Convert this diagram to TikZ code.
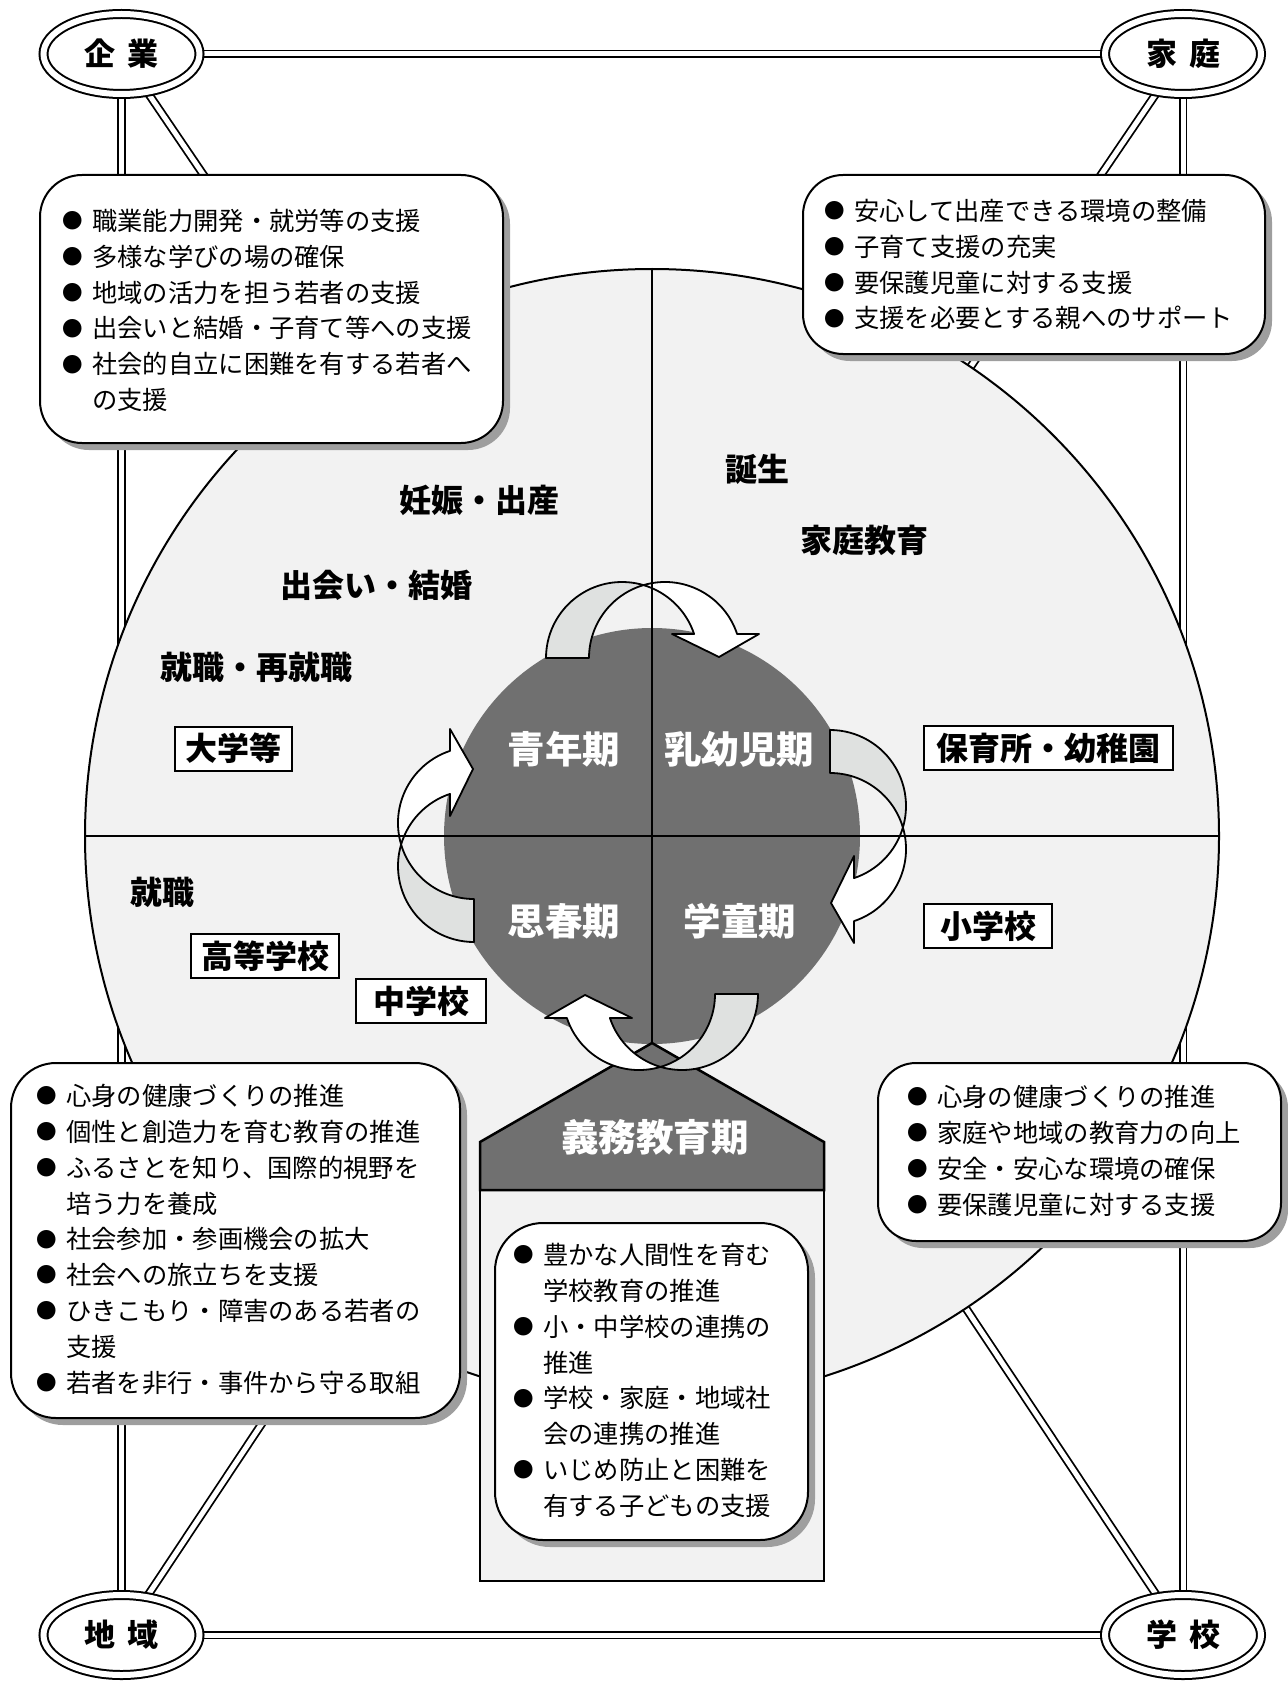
\documentclass[tikz,border=0pt]{standalone}
\usepackage{fontspec}
\setmainfont{Noto Sans CJK JP}
\usetikzlibrary{shapes.geometric,shadows}
\definecolor{bgc}{RGB}{242,242,242}
\definecolor{dkc}{RGB}{112,112,112}
\definecolor{agr}{RGB}{223,225,224}
\definecolor{shc}{RGB}{158,158,158}
\newcommand\bu{\makebox[39pt][c]{\raisebox{1.7pt}{\fontsize{20.5pt}{20.5pt}\selectfont ●}}}
\newcommand\ind{\hspace*{39pt}}
\newcommand\cyclearrow{%
  \draw[arw, fill=agr] (546,658) arc[start angle=180, end angle=73.57, radius=76pt]
     arc[start angle=106.43, end angle=180, radius=76pt] -- cycle;
  \draw[arw, fill=white] (643.5,585.1) arc[start angle=106.43, end angle=18.4, radius=76pt]
     -- (759,634) -- (719,657) -- (672,634) -- (694.1,634)
     arc[start angle=18.4, end angle=73.57, radius=76pt] -- cycle;}
\begin{document}
\begin{tikzpicture}[x=1pt,y=-1pt,
  dbl/.style={draw=black,line width=1.8pt,double=white,double distance=5pt},
  corner/.style={ellipse,draw,line width=2pt,double=white,double distance=6pt,fill=white,
     minimum width=156pt,minimum height=80pt,inner sep=0pt,
     font=\fontsize{31pt}{31pt}\selectfont\bfseries},
  bx/.style={rectangle,draw,line width=2pt,fill=white,inner sep=0pt,
     drop shadow={shadow xshift=7pt,shadow yshift=-7pt,fill=shc,opacity=1}},
  txt/.style={anchor=base west,inner sep=0pt,font=\fontsize{25.3pt}{35.8pt}\selectfont},
  lbl/.style={inner sep=0pt,font=\fontsize{32pt}{32pt}\selectfont\bfseries},
  blbl/.style={lbl,draw,line width=2pt,fill=white,minimum height=44pt},
  wlbl/.style={inner sep=0pt,text=white,font=\fontsize{37.5pt}{37.5pt}\selectfont\bfseries},
  arw/.style={draw=black,line width=1.8pt,line join=round}]
\useasboundingbox (0,0) rectangle (1287,1685);

% anchor coordinates
\coordinate (cK) at (121.5,54);
\coordinate (cF) at (1183,54);
\coordinate (cR) at (121.5,1635);
\coordinate (cS) at (1183,1635);
\coordinate (cC) at (652,836);
\coordinate (apex) at (652,1043);

% double connecting lines
\draw[dbl] (cK) -- (cF);
\draw[dbl] (cF) -- (cS);
\draw[dbl] (cS) -- (cR);
\draw[dbl] (cR) -- (cK);
\draw[dbl] (cK) -- (cC);
\draw[dbl] (cF) -- (cC);
\draw[dbl] (cR) -- (cC);
\draw[dbl] (cS) -- (cC);

% big circle and dark centre
\node[circle,draw,line width=2pt,fill=bgc,minimum size=1134pt,inner sep=0pt,outer sep=0pt] (big) at (cC) {};
\node[circle,fill=dkc,minimum size=416pt,inner sep=0pt,outer sep=0pt] (core) at (cC) {};

% compulsory education pentagon
\draw[line width=2.5pt,fill=bgc] (480,1190) rectangle (824,1581);
\draw[line width=2.5pt,fill=dkc,line join=miter] (480,1190) -- (480,1142) -- (apex) -- (824,1142) -- (824,1190) -- cycle;
\node[wlbl] (gimu) at (655,1137) {義務教育期};

% cycle arrows
\cyclearrow
\begin{scope}[rotate around={-90:(652,836)}]\cyclearrow\end{scope}
\begin{scope}[shift={(0,-20)}]
  \begin{scope}[rotate around={180:(652,836)}]\cyclearrow\end{scope}
\end{scope}
\begin{scope}[rotate around={90:(652,836)}]\cyclearrow\end{scope}

% cross lines
\draw[line width=2pt] (big.west) -- (big.east);
\draw[line width=2pt] (big.north) -- (apex);

% stage labels
\node[wlbl] (seinen) at (564,749) {青年期};
\node[wlbl] (nyuyoji) at (739,749) {乳幼児期};
\node[wlbl] (shishun) at (564,921) {思春期};
\node[wlbl] (gakudo) at (740,921) {学童期};

% life event labels
\node[lbl] (tanjo) at (757,469) {誕生};
\node[lbl] (kkyoiku) at (864,540) {家庭教育};
\node[lbl] (ninshin) at (479,500) {妊娠・出産};
\node[lbl] (deai) at (376,585) {出会い・結婚};
\node[lbl] (shushoku) at (256,667) {就職・再就職};
\node[lbl] (shushoku2) at (162,892) {就職};
\node[blbl,minimum width=117pt] (daigaku) at (233.5,748.5) {大学等};
\node[blbl,minimum width=249pt] (hoiku) at (1048.5,748) {保育所・幼稚園};
\node[blbl,minimum width=128pt] (shogakko) at (988,926) {小学校};
\node[blbl,minimum width=148pt] (koko) at (265,956) {高等学校};
\node[blbl,minimum width=130pt] (chugakko) at (421,1001) {中学校};

% support boxes
\node[bx,rounded corners=42pt,minimum width=463pt,minimum height=268pt] (bTL) at (271.5,309) {};
\node[txt] (tTL) at (53,230.6) {\begin{tabular}[t]{@{}l@{}}
\bu 職業能力開発・就労等の支援\\
\bu 多様な学びの場の確保\\
\bu 地域の活力を担う若者の支援\\
\bu 出会いと結婚・子育て等への支援\\
\bu 社会的自立に困難を有する若者へ\\
\ind の支援\end{tabular}};

\node[bx,rounded corners=40pt,minimum width=462pt,minimum height=179pt] (bTR) at (1034,264.5) {};
\node[txt] (tTR) at (815,220.6) {\begin{tabular}[t]{@{}l@{}}
\bu 安心して出産できる環境の整備\\
\bu 子育て支援の充実\\
\bu 要保護児童に対する支援\\
\bu 支援を必要とする親へのサポート\end{tabular}};

\node[bx,rounded corners=45pt,minimum width=449pt,minimum height=355pt] (bBL) at (235.5,1240.5) {};
\node[txt] (tBL) at (27,1105.6) {\begin{tabular}[t]{@{}l@{}}
\bu 心身の健康づくりの推進\\
\bu 個性と創造力を育む教育の推進\\
\bu ふるさとを知り、国際的視野を\\
\ind 培う力を養成\\
\bu 社会参加・参画機会の拡大\\
\bu 社会への旅立ちを支援\\
\bu ひきこもり・障害のある若者の\\
\ind 支援\\
\bu 若者を非行・事件から守る取組\end{tabular}};

\node[bx,rounded corners=38pt,minimum width=403pt,minimum height=178pt] (bBR) at (1079.5,1152) {};
\node[txt] (tBR) at (898,1106.6) {\begin{tabular}[t]{@{}l@{}}
\bu 心身の健康づくりの推進\\
\bu 家庭や地域の教育力の向上\\
\bu 安全・安心な環境の確保\\
\bu 要保護児童に対する支援\end{tabular}};

\node[bx,rounded corners=48pt,minimum width=313pt,minimum height=317pt] (bIN) at (651.5,1381.5) {};
\node[txt] (tIN) at (504,1264.6) {\begin{tabular}[t]{@{}l@{}}
\bu 豊かな人間性を育む\\
\ind 学校教育の推進\\
\bu 小・中学校の連携の\\
\ind 推進\\
\bu 学校・家庭・地域社\\
\ind 会の連携の推進\\
\bu いじめ防止と困難を\\
\ind 有する子どもの支援\end{tabular}};

% corner ellipses
\node[corner] (kigyo) at (cK) {企\hspace{12pt}業};
\node[corner] (katei) at (cF) {家\hspace{12pt}庭};
\node[corner] (chiiki) at (cR) {地\hspace{12pt}域};
\node[corner] (gakko) at (cS) {学\hspace{12pt}校};
\end{tikzpicture}
\end{document}
